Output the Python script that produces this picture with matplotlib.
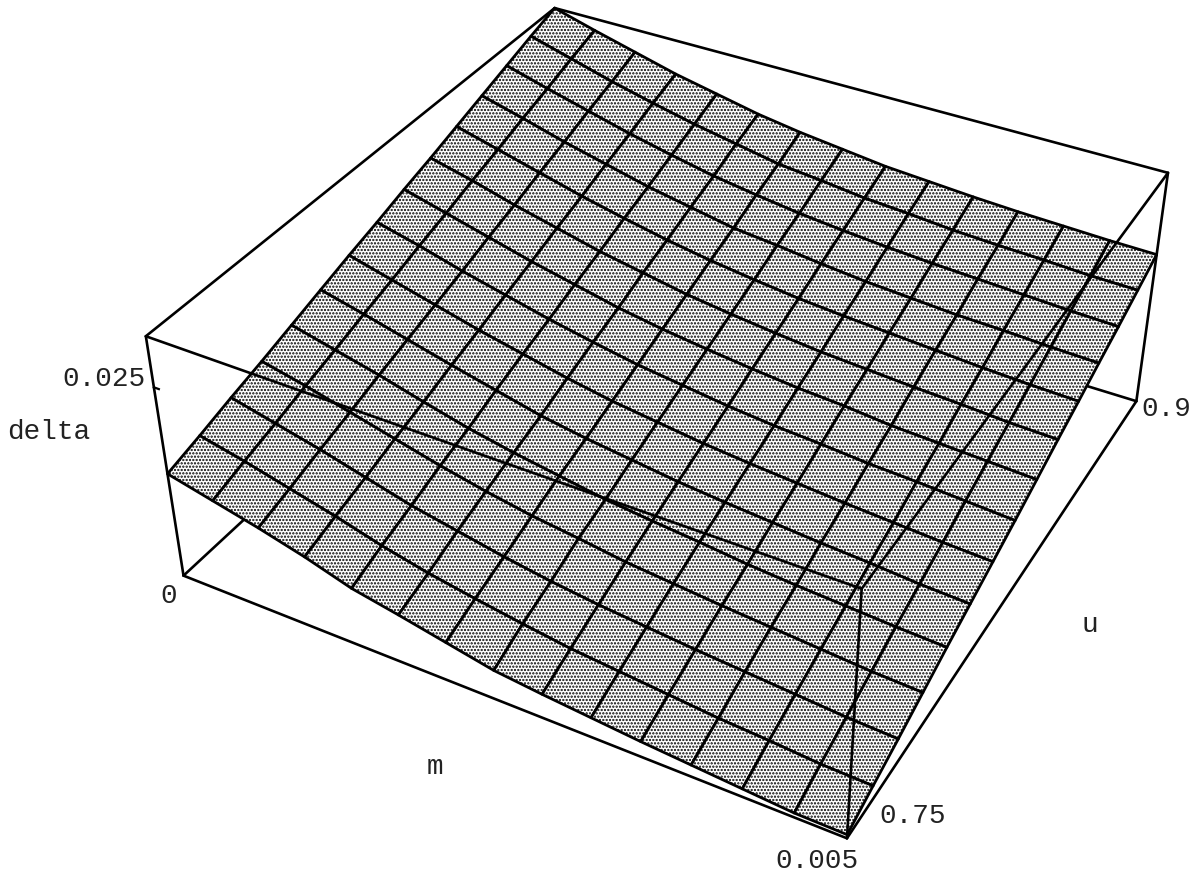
#!/usr/bin/env python3
"""Perspective surface plot of delta over (m, u), Mathematica style box."""
import numpy as np
import matplotlib
matplotlib.use("Agg")
import matplotlib.pyplot as plt

W, H = 1192, 876
plt.rcParams.update({"font.family": "Liberation Mono", "hatch.linewidth": 1.1})

M_MAX = 0.005
U_MIN, U_MAX = 0.75, 0.9
Z_TOP = 0.0313
Z_TICK = 0.025
DELTA_UNIT = 0.984e-4

m_values = [i * M_MAX / 14 for i in range(15)]
u_values = [U_MIN + j * (U_MAX - U_MIN) / 14 for j in range(15)]

# delta in units of DELTA_UNIT, one row per u value
delta_rows = [
    [141, 127, 113, 97, 78, 66, 53, 40, 33, 27, 21, 16, 11, 6, 5],
    [153, 140, 125, 110, 93, 79, 68, 58, 49, 43, 37, 31, 27, 22, 20],
    [166, 152, 138, 122, 106, 94, 82, 72, 64, 58, 52, 47, 42, 37, 34],
    [178, 165, 150, 135, 120, 107, 96, 88, 79, 73, 67, 62, 57, 52, 49],
    [191, 177, 163, 147, 132, 120, 110, 100, 93, 87, 80, 75, 71, 67, 64],
    [204, 190, 175, 160, 146, 132, 122, 114, 106, 100, 95, 90, 86, 81, 78],
    [217, 202, 187, 172, 159, 146, 135, 127, 119, 113, 108, 103, 99, 95, 92],
    [229, 215, 199, 185, 171, 159, 148, 140, 132, 126, 122, 117, 114, 110, 106],
    [242, 227, 212, 197, 184, 171, 161, 153, 146, 140, 136, 130, 127, 124, 121],
    [254, 240, 224, 210, 196, 185, 174, 166, 159, 153, 149, 145, 142, 138, 136],
    [267, 252, 237, 222, 209, 197, 187, 179, 172, 167, 163, 159, 155, 152, 150],
    [280, 265, 249, 235, 221, 210, 199, 193, 186, 180, 176, 172, 170, 167, 165],
    [293, 277, 262, 247, 234, 222, 213, 205, 199, 194, 190, 187, 184, 181, 179],
    [306, 290, 274, 260, 247, 236, 225, 219, 212, 208, 203, 200, 198, 195, 194],
    [318, 302, 287, 272, 260, 248, 239, 232, 225, 221, 217, 214, 212, 210, 209],
]

# camera calibration: unit box corner -> pixel position in the reference
calib_box = [(0, 0, 0), (1, 0, 0), (1, 1, 0), (0, 0, 1), (1, 0, 1), (1, 1, 1), (0, 1, 1)]
calib_px = [(183, 575), (848, 838), (1136, 402), (146, 337), (861, 589), (1168, 172), (555, 8)]


def fit_projection(box_pts, px_pts, ax):
    """Fit a 4x4 projection from data coords to the axes' 2D coords."""
    disp = np.array([(x, H - y) for x, y in px_pts], dtype=float)
    target = ax.transData.inverted().transform(disp)
    rows, rhs = [], []
    for (x, y, z), (a, b) in zip(box_pts, target):
        rows.append([x, y, z, 1, 0, 0, 0, 0, -a * x, -a * y, -a * z])
        rows.append([0, 0, 0, 0, x, y, z, 1, -b * x, -b * y, -b * z])
        rhs += [a, b]
    p = np.linalg.lstsq(np.array(rows), np.array(rhs), rcond=None)[0]
    proj = np.array([
        p[:4],
        p[4:8],
        [0, 0, 0, -1],       # depth is -1/w, so far polygons sort first
        [p[8], p[9], p[10], 1],
    ])
    scale = np.array([
        [1 / M_MAX, 0, 0, 0],
        [0, 1 / (U_MAX - U_MIN), 0, -U_MIN / (U_MAX - U_MIN)],
        [0, 0, 1 / Z_TOP, 0],
        [0, 0, 0, 1],
    ])
    return proj @ scale


def box_edge(ax, a, b, zorder):
    ax.plot([a[0], b[0]], [a[1], b[1]], [a[2], b[2]], color="black",
            linewidth=1.9, zorder=zorder, solid_capstyle="round")


fig = plt.figure(figsize=(W / 100, H / 100), dpi=100)
pad = (W - H) / 2 / H
ax = fig.add_axes([0, -pad, 1, 1 + 2 * pad], projection="3d")
ax.set_axis_off()
ax.computed_zorder = False

proj_matrix = fit_projection(calib_box, calib_px, ax)
ax.get_proj = lambda: proj_matrix

mm, uu = np.meshgrid(m_values, u_values)
zz = np.array(delta_rows) * DELTA_UNIT

c000, c100 = (0, U_MIN, 0), (M_MAX, U_MIN, 0)
c110, c010 = (M_MAX, U_MAX, 0), (0, U_MAX, 0)
c001, c101 = (0, U_MIN, Z_TOP), (M_MAX, U_MIN, Z_TOP)
c111, c011 = (M_MAX, U_MAX, Z_TOP), (0, U_MAX, Z_TOP)

# edges that lie behind the surface
for a, b in [(c000, c010), (c010, c110), (c010, c011)]:
    box_edge(ax, a, b, 1)
for a, b in [(c000, c100), (c100, c110), (c011, c001), (c011, c111), (c000, c001), (c110, c111)]:
    box_edge(ax, a, b, 1)

ax.plot_surface(mm, uu, zz, rstride=1, cstride=1, color="white", shade=False,
                edgecolors="black", linewidth=2.0, hatch=".....", zorder=2)

# front edges are drawn over the surface
for a, b in [(c001, c101), (c101, c111), (c100, c101)]:
    box_edge(ax, a, b, 3)

# z tick
ax.plot([0, 0.00004], [U_MIN, U_MIN], [Z_TICK, Z_TICK], color="black", linewidth=1.6, zorder=3)

labels = [
    ("0.025", 62, 379), ("delta", 7, 432), ("0", 160, 596), ("m", 427, 767),
    ("u", 1082, 625), ("0.75", 879, 816), ("0.005", 775, 861), ("0.9", 1141, 409),
]
for text, x, y in labels:
    fig.text(x / W, 1 - y / H, text, fontsize=20, ha="left", va="center", color="#222222")

fig.savefig("out.png", dpi=100)
